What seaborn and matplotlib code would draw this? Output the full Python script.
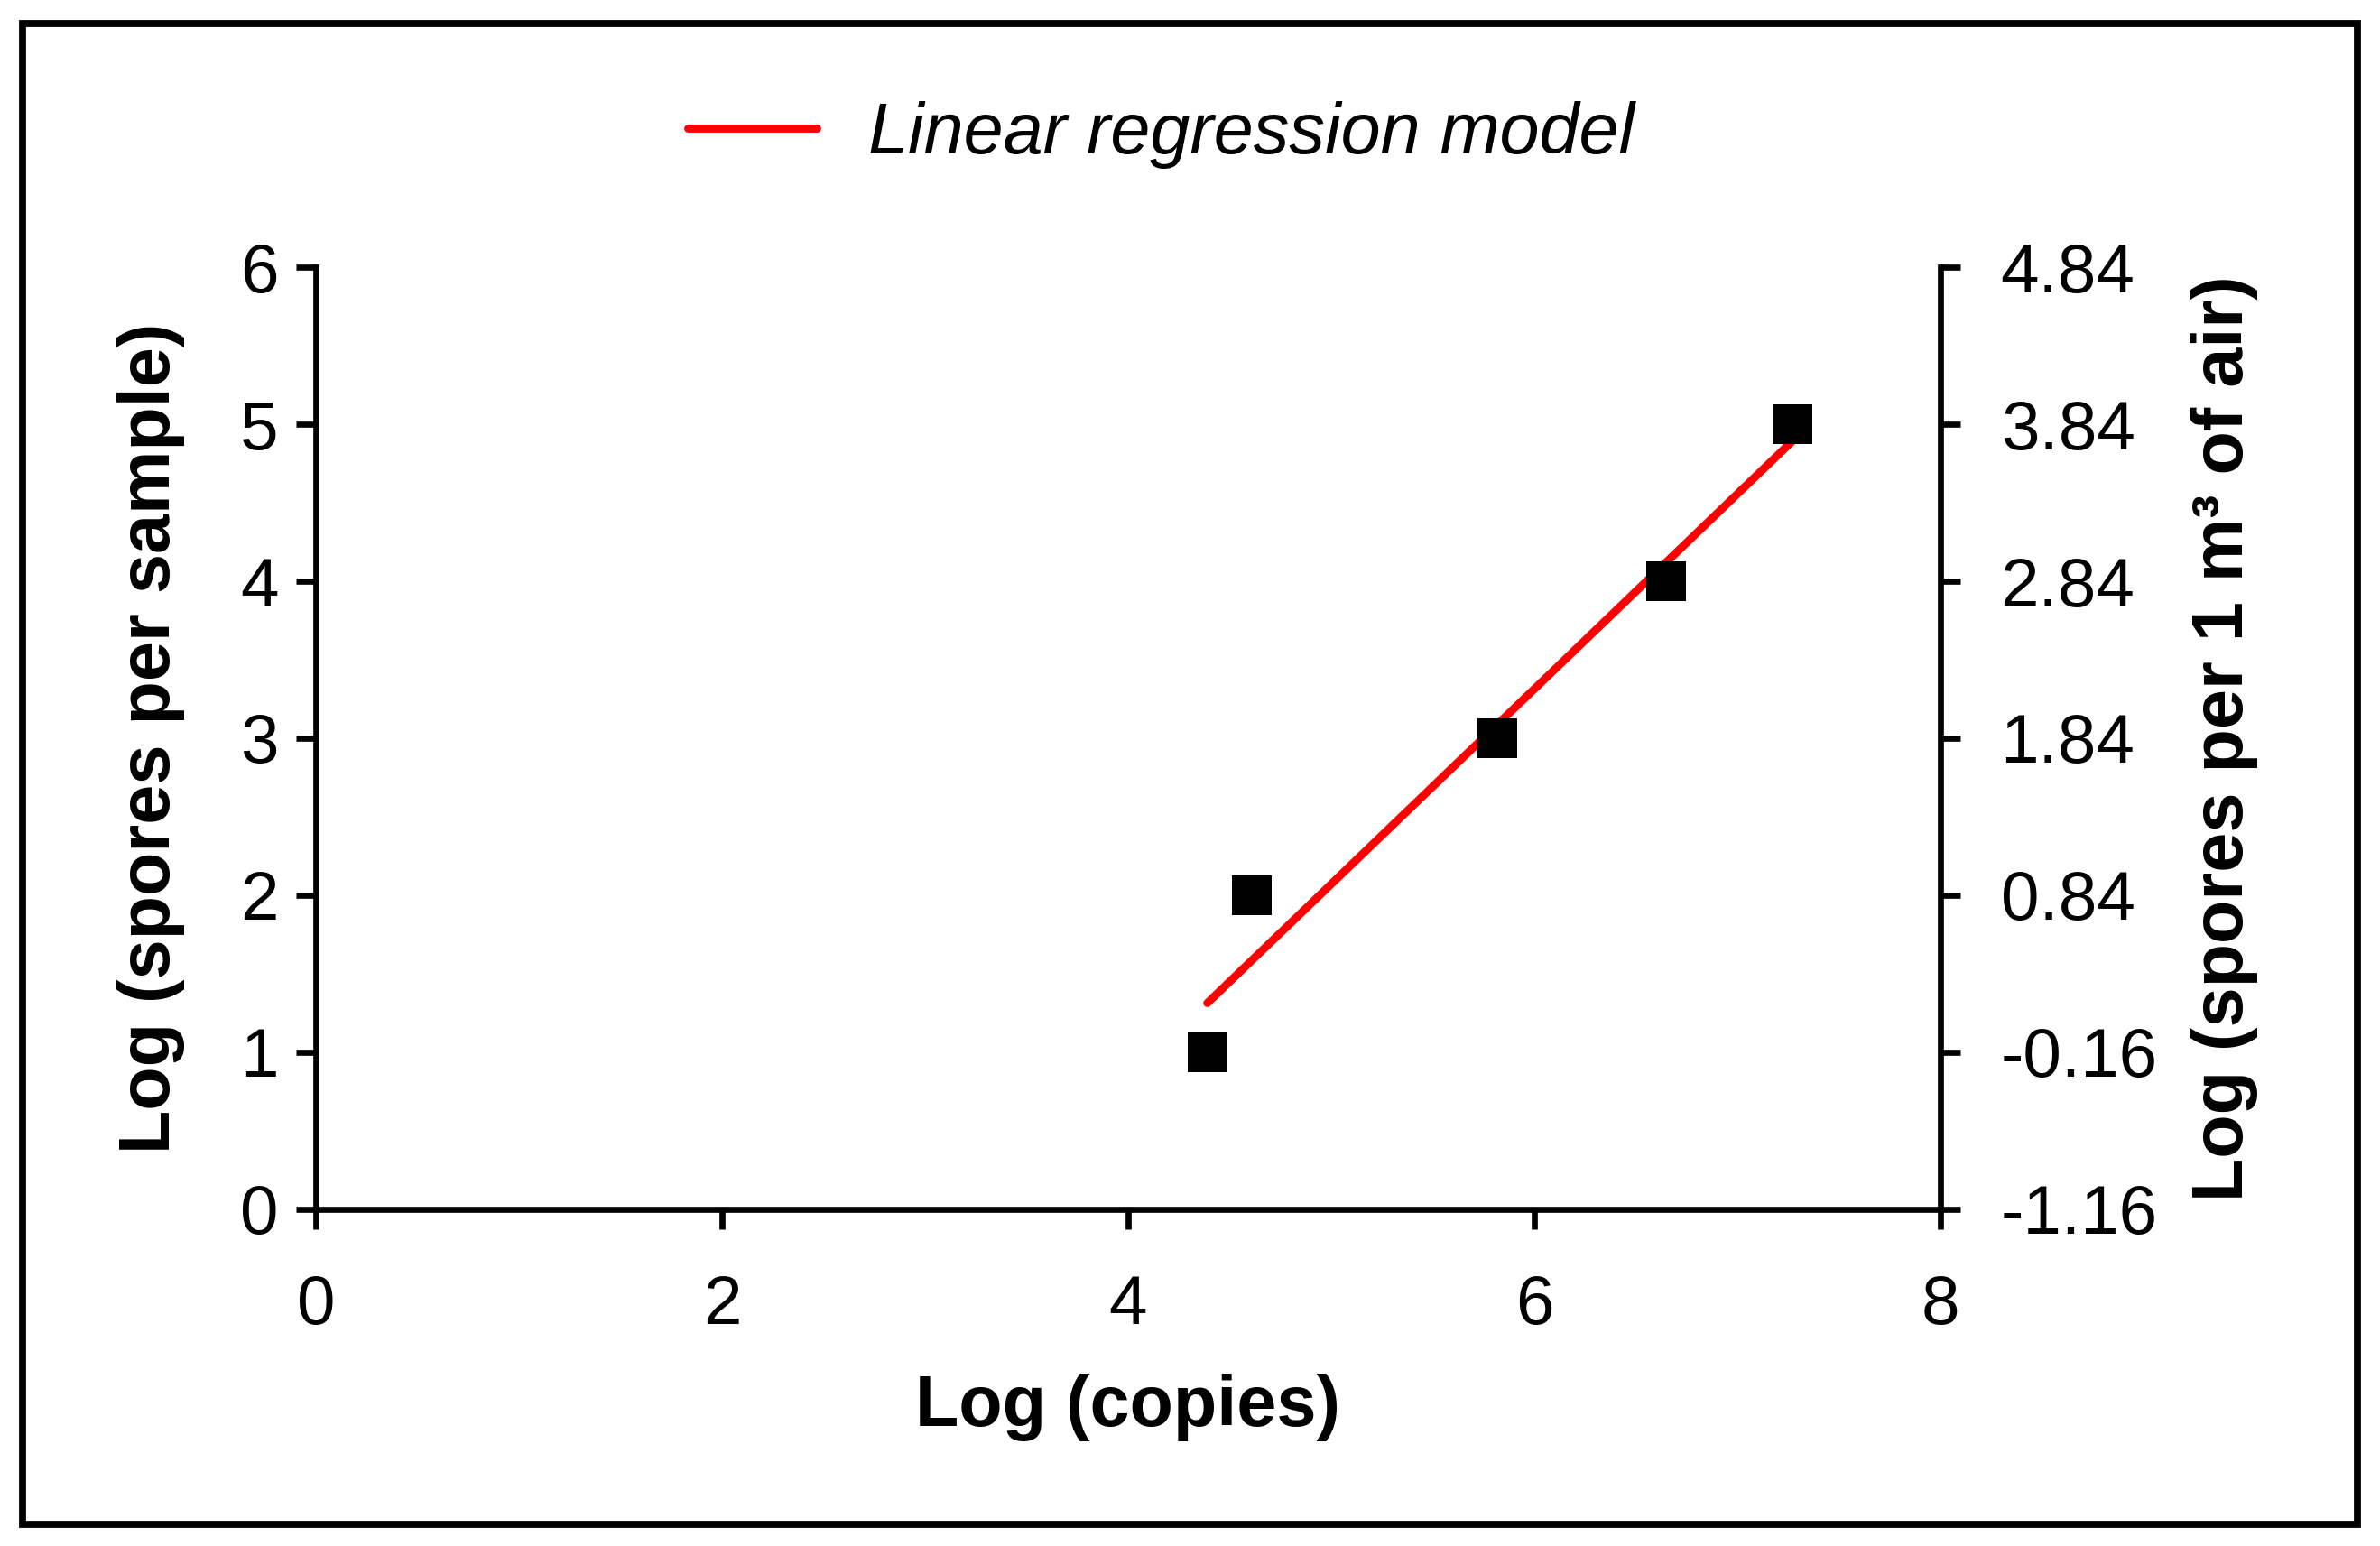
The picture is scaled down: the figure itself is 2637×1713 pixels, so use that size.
import numpy as np
import pandas as pd
import matplotlib
matplotlib.use("Agg")
import matplotlib.pyplot as plt
import seaborn as sns
from matplotlib.patches import Rectangle

# data
log_copies = [4.39, 4.61, 5.82, 6.65, 7.27]
log_spores = [1, 2, 3, 4, 5]
x_ticks = [0, 2, 4, 6, 8]
y_ticks = [0, 1, 2, 3, 4, 5, 6]
air_ticks = [-1.16, -0.16, 0.84, 1.84, 2.84, 3.84, 4.84]

df = pd.DataFrame({'copies': log_copies, 'spores': log_spores})

sns.set_style('white')
plt.rcParams['font.family'] = ['Liberation Sans', 'DejaVu Sans']
for key in ['text.color', 'axes.labelcolor', 'xtick.color', 'ytick.color', 'axes.edgecolor']:
    plt.rcParams[key] = 'black'

fig = plt.figure(figsize=(13.185, 8.565), dpi=200)
ax = fig.add_axes([0.1327, 0.218, 0.6826, 0.609])

sns.regplot(data=df, x='copies', y='spores', ax=ax, ci=None, scatter=False,
            color='red', label='Linear regression model', line_kws={'lw': 3.2})
sns.scatterplot(data=df, x='copies', y='spores', ax=ax, marker='s', color='black',
                s=240, edgecolor='black', linewidth=0, zorder=3, legend=False)

ax.set_xlim(0, 8)
ax.set_ylim(0, 6)
ax.set_xticks(x_ticks)
ax.set_yticks(y_ticks)
ax.set_xticklabels([str(v) for v in x_ticks])
ax.set_yticklabels([str(v) for v in y_ticks])
ax.set_xlabel('Log (copies)', fontsize=28.5, fontweight='bold', labelpad=14)
ax.set_ylabel('Log (spores per sample)', fontsize=28.5, fontweight='bold', labelpad=22)

for side in ['top', 'right']:
    ax.spines[side].set_visible(False)
for side in ['left', 'bottom']:
    ax.spines[side].set_linewidth(2.4)
ax.tick_params(axis='x', direction='out', length=8, width=2.4, labelsize=27.5, pad=18, bottom=True)
ax.tick_params(axis='y', direction='out', length=8, width=2.4, labelsize=27.5, pad=7, left=True)

ax2 = ax.twinx()
ax2.set_ylim(-1.16, 4.84)
ax2.set_yticks(air_ticks)
ax2.set_yticklabels([f'{v:.2f}' for v in air_ticks])
ax2.set_ylabel('Log (spores per 1 m³ of air)', fontsize=28.5, fontweight='bold', labelpad=13)
for side in ['top', 'left', 'bottom']:
    ax2.spines[side].set_visible(False)
ax2.spines['right'].set_linewidth(2.4)
ax2.tick_params(axis='y', direction='out', length=8, width=2.4, labelsize=27.5, pad=16, right=True)

reg_line = ax.get_lines()[0]
ax.legend(handles=[reg_line], labels=['Linear regression model'], loc='center left',
          bbox_to_anchor=(0.289, 0.913), bbox_transform=fig.transFigure,
          frameon=False, borderpad=0, borderaxespad=0,
          handlelength=1.8, handletextpad=0.72,
          prop={'style': 'italic', 'size': 28.5})

# outer frame
fig.patches.append(Rectangle((0.0095, 0.014), 0.981, 0.971, transform=fig.transFigure,
                             fill=False, edgecolor='black', linewidth=2.8))

fig.savefig('out.png', dpi=200, facecolor='white')
